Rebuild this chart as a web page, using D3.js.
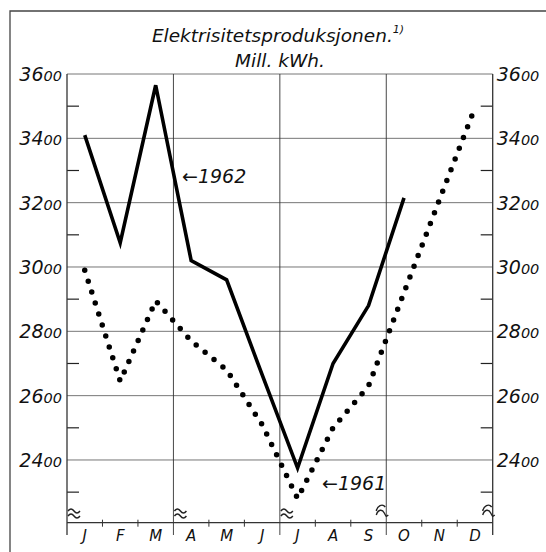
<!DOCTYPE html>
<html>
<head>
<meta charset="utf-8">
<script src="https://cdn.jsdelivr.net/npm/d3@7"></script>
<style>
  body { margin: 0; background: #fff; }
  text { font-family: 'DejaVu Sans', 'Liberation Sans', sans-serif; font-style: italic; fill: #111; }
</style>
</head>
<body>
<script>
'use strict';

var width  = 546;
var height = 552;

// data (Mill. kWh)
var months   = ['J', 'F', 'M', 'A', 'M', 'J', 'J', 'A', 'S', 'O', 'N', 'D'];
var prod1962 = [3410, 3075, 3565, 3020, 2960, 2665, 2375, 2700, 2880, 3215];
var prod1961 = [2990, 2645, 2895, 2770, 2680, 2510, 2280, 2500, 2630, 2920, 3210, 3495];
var yTicks   = [3600, 3400, 3200, 3000, 2800, 2600, 2400];
var yMinor   = [3500, 3300, 3100, 2900, 2700, 2500, 2300];
var quarters = [0, 3, 6, 9, 12];

var svg = d3.select('body').append('svg')
    .attr('width', width)
    .attr('height', height);

var x = d3.scaleLinear().domain([0, 12]).range([67, 492.7]);
var y = d3.scaleLinear().domain([2205, 3600]).range([522.7, 74]);

// outer frame
svg.append('path')
  .attr('d', 'M10,552 V11 H546')
  .attr('fill', 'none')
  .attr('stroke', '#444')
  .attr('stroke-width', 1.3);

// title
var title = svg.append('text')
  .attr('x', 278)
  .attr('y', 42)
  .attr('text-anchor', 'middle')
  .style('font-size', '18.5px');
title.append('tspan').text('Elektrisitetsproduksjonen.');
title.append('tspan').attr('dy', -9).style('font-size', '11px').text('1)');

svg.append('text')
  .attr('x', 280)
  .attr('y', 67)
  .attr('text-anchor', 'middle')
  .style('font-size', '18.5px')
  .text('Mill. kWh.');

// horizontal grid
svg.selectAll('.grid')
  .data(yTicks)
  .enter().append('line')
  .attr('x1', x(0)).attr('x2', x(12))
  .attr('y1', function(d) { return y(d); })
  .attr('y2', function(d) { return y(d); })
  .attr('stroke', '#666')
  .attr('stroke-width', 0.9);

// minor ticks, both sides
yMinor.forEach(function(d) {
  svg.append('line')
    .attr('x1', x(0)).attr('x2', x(0) + 12)
    .attr('y1', y(d)).attr('y2', y(d))
    .attr('stroke', '#222').attr('stroke-width', 1.2);
  svg.append('line')
    .attr('x1', x(12) - 12).attr('x2', x(12))
    .attr('y1', y(d)).attr('y2', y(d))
    .attr('stroke', '#222').attr('stroke-width', 1.2);
});

// quarter lines (incl. both axes)
svg.selectAll('.quarter')
  .data(quarters)
  .enter().append('line')
  .attr('x1', function(d) { return x(d); })
  .attr('x2', function(d) { return x(d); })
  .attr('y1', y(3600))
  .attr('y2', 535)
  .attr('stroke', '#333')
  .attr('stroke-width', function(d) { return (d === 0 || d === 12) ? 1.3 : 0.9; });

// bottom axis
svg.append('line')
  .attr('x1', x(0)).attr('x2', x(12))
  .attr('y1', y(2205)).attr('y2', y(2205))
  .attr('stroke', '#333').attr('stroke-width', 1.2);

d3.range(1, 12).filter(function(i) { return i % 3 !== 0; }).forEach(function(i) {
  svg.append('line')
    .attr('x1', x(i)).attr('x2', x(i))
    .attr('y1', y(2205) - 3).attr('y2', y(2205) + 4)
    .attr('stroke', '#333').attr('stroke-width', 1);
});

// break marks
quarters.forEach(function(q) {
  var bx = x(q);
  var by = 513;
  if (q < 9) {
    [-3, 2].forEach(function(o) {
      svg.append('path')
        .attr('d', 'M' + (bx + 1) + ',' + (by + o + 1) +
          ' q3,-4 6,0 t6,0')
        .attr('fill', 'none').attr('stroke', '#222').attr('stroke-width', 1.4);
    });
  } else {
    svg.append('path')
      .attr('d', 'M' + (bx - 10) + ',' + (by + 2) +
        ' c2,-6 6,-6 8,-2 s2,4 4,2 M' + (bx - 10) + ',' + (by - 2) +
        ' c1,-5 6,-8 9,-4')
      .attr('fill', 'none').attr('stroke', '#222').attr('stroke-width', 1.4);
  }
});

// y labels, small zeros like the lettering
function yLabel(sel, d) {
  var s = String(d);
  sel.append('tspan').style('font-size', '19px').text(s.slice(0, 2));
  sel.append('tspan').style('font-size', '14.5px').text(s.slice(2));
}
yTicks.forEach(function(d) {
  svg.append('text')
    .attr('x', x(0) - 5).attr('y', y(d) + 7)
    .attr('text-anchor', 'end')
    .call(yLabel, d);
  svg.append('text')
    .attr('x', x(12) + 4).attr('y', y(d) + 7)
    .call(yLabel, d);
});

// month labels
svg.selectAll('.month')
  .data(months)
  .enter().append('text')
  .attr('x', function(d, i) { return x(i + 0.5); })
  .attr('y', 541)
  .attr('text-anchor', 'middle')
  .style('font-size', '15px')
  .text(function(d) { return d; });

var line = d3.line()
  .x(function(d, i) { return x(i + 0.5); })
  .y(function(d) { return y(d); });

// 1961 dotted
svg.append('path')
  .datum(prod1961)
  .attr('d', line)
  .attr('fill', 'none')
  .attr('stroke', '#000')
  .attr('stroke-width', 5.5)
  .attr('stroke-linecap', 'round')
  .attr('stroke-dasharray', '0 11.5');

// 1962 solid
svg.append('path')
  .datum(prod1962)
  .attr('d', line)
  .attr('fill', 'none')
  .attr('stroke', '#000')
  .attr('stroke-width', 3.6)
  .attr('stroke-linejoin', 'miter');

// labels on the lines
svg.append('text')
  .attr('x', 182).attr('y', 183)
  .style('font-size', '19px')
  .text('\u21901962');

svg.append('text')
  .attr('x', 322).attr('y', 490)
  .style('font-size', '19px')
  .text('\u21901961');
</script>
</body>
</html>
